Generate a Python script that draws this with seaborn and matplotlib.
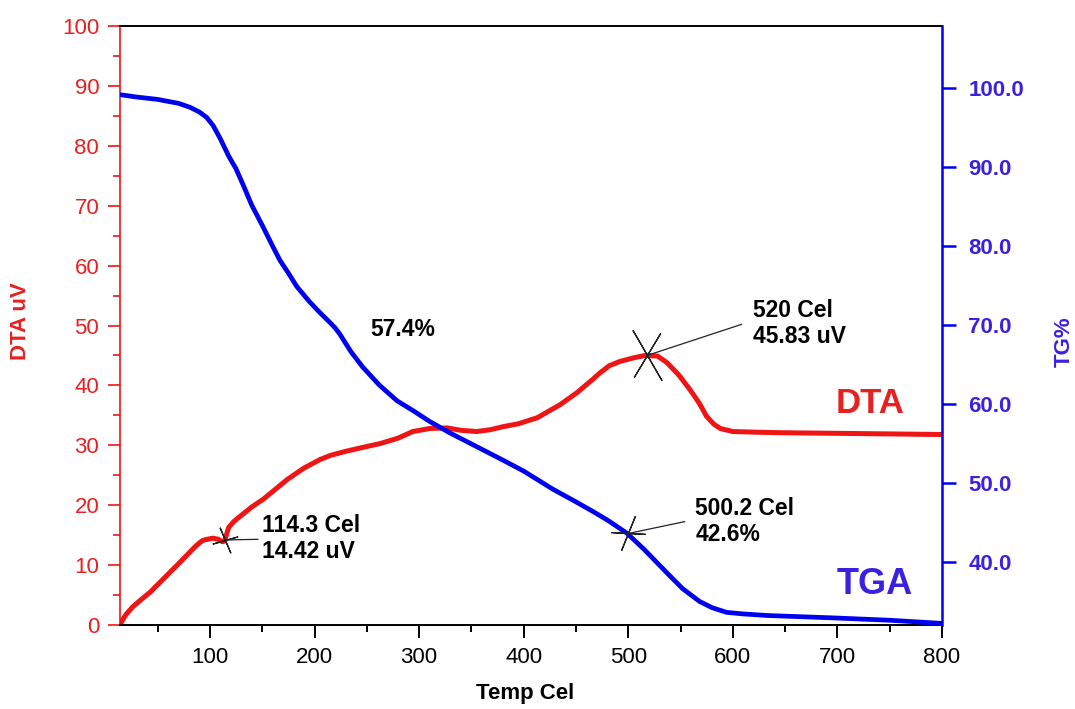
import matplotlib
matplotlib.use("Agg")
import matplotlib.pyplot as plt
import seaborn as sns
from matplotlib.ticker import MultipleLocator

# DTA curve (left axis, uV)
temp_dta = [14, 17, 20, 26, 34, 43, 59, 71, 81, 86, 90, 93, 97, 103, 108, 112, 114, 116, 118,
            123, 130, 140, 151, 165, 174, 190, 205, 215, 230, 245, 263, 280, 294,
            310, 327, 340, 355, 368, 380, 395, 413, 435, 451, 466, 473, 482, 492,
            505, 516, 528, 537, 548, 559, 568, 575, 582, 588, 600, 620, 645, 700,
            750, 800]
dta_uv = [0.0, 1.0, 1.8, 3.0, 4.2, 5.5, 8.3, 10.4, 12.2, 13.1, 13.7, 14.1, 14.3, 14.5, 14.3, 13.9, 14.0, 15.2, 16.3,
          17.3, 18.3, 19.7, 21.0, 23.0, 24.3, 26.2, 27.6, 28.3, 29.0, 29.6, 30.3, 31.2, 32.3,
          32.8, 32.9, 32.5, 32.3, 32.6, 33.1, 33.6, 34.6, 36.8, 38.8, 41.0, 42.1, 43.3, 44.0,
          44.6, 45.0, 44.9, 43.8, 41.8, 39.3, 37.0, 34.8, 33.5, 32.8, 32.3, 32.2, 32.1, 32.0,
          31.9, 31.8]

# TGA curve (right axis, %)
temp_tga = [14, 30, 50, 70, 81, 90, 97, 103, 110, 118, 125, 132, 140, 151, 160, 167,
            175, 183, 195, 205, 215, 220, 224, 235, 246, 262, 279, 295, 310, 330,
            358, 380, 400, 428, 450, 466, 480, 499, 515, 537, 552, 568, 580, 594,
            610, 633, 696, 750, 800]
tg_pct = [99.2, 98.9, 98.6, 98.1, 97.6, 97.0, 96.3, 95.3, 93.6, 91.4, 89.8, 87.7, 85.2, 82.4, 80.0, 78.2,
          76.6, 74.9, 73.0, 71.6, 70.3, 69.6, 68.9, 66.6, 64.7, 62.4, 60.4, 59.1, 57.8, 56.3,
          54.4, 52.9, 51.5, 49.2, 47.6, 46.4, 45.3, 43.6, 41.6, 38.6, 36.6, 35.0, 34.2, 33.6,
          33.4, 33.2, 32.9, 32.6, 32.2]

# marked points
dta_marks_t = [114.3, 518]
dta_marks_v = [14.2, 45.0]
dta_mark_text = ["114.3 Cel\n14.42 uV", "520 Cel\n45.83 uV"]
tga_mark_t = 500.2
tga_mark_v = 43.6
tga_mark_text = "500.2 Cel\n42.6%"

dta_ticks = list(range(0, 101, 10))
tg_ticks = [40, 50, 60, 70, 80, 90, 100]
temp_ticks = [100, 200, 300, 400, 500, 600, 700, 800]

RED = "#f01414"
RED_TXT = "#e82020"
BLUE = "#0000f0"
BLUE_TXT = "#3a20e0"

sns.set_style("ticks")
plt.rcParams["font.family"] = ["Liberation Sans", "DejaVu Sans"]
plt.rcParams["text.color"] = "black"

fig = plt.figure(figsize=(10.75, 7.09), dpi=100)
ax = fig.add_axes([0.1116, 0.1185, 0.7647, 0.8448])
ax2 = ax.twinx()

sns.lineplot(x=temp_dta, y=dta_uv, ax=ax, color=RED, lw=3.6,
             solid_joinstyle="round", solid_capstyle="round")
sns.lineplot(x=temp_tga, y=tg_pct, ax=ax2, color=BLUE, lw=3.4,
             solid_joinstyle="round", solid_capstyle="round")

ax.set_xlim(14, 800)
ax.set_ylim(0, 100)
ax2.set_ylim(32.0, 107.9)

ax.set_xticks(temp_ticks)
ax.xaxis.set_minor_locator(MultipleLocator(50))
ax.set_yticks(dta_ticks)
ax.yaxis.set_minor_locator(MultipleLocator(5))
ax2.set_yticks(tg_ticks, labels=[f"{v:.1f}" for v in tg_ticks], fontweight="bold")

# spines
ax.spines["left"].set_color(RED)
ax.spines["left"].set_linewidth(1.2)
ax.spines["bottom"].set_color("black")
ax.spines["bottom"].set_linewidth(1.4)
ax.spines["top"].set_color("black")
ax.spines["top"].set_linewidth(1.4)
ax.spines["right"].set_visible(False)
for s in ["left", "top", "bottom"]:
    ax2.spines[s].set_visible(False)
ax2.spines["right"].set_color(BLUE)
ax2.spines["right"].set_linewidth(1.8)

ax.tick_params(axis="y", which="major", color=RED, labelcolor=RED_TXT, labelsize=16,
               length=9, width=1.2, pad=6)
ax.tick_params(axis="y", which="minor", color=RED, length=5, width=1.2)
ax.tick_params(axis="x", which="major", color="black", labelcolor="black", labelsize=16,
               length=9, width=1.4, pad=7)
ax.tick_params(axis="x", which="minor", color="black", length=5, width=1.4)
ax2.tick_params(axis="y", which="major", color=BLUE, labelcolor=BLUE_TXT, labelsize=16,
                length=10, width=1.8, pad=9)

ax.set_xlabel("Temp Cel", fontsize=16, fontweight="bold", color="black")
ax.xaxis.set_label_coords(0.493, -0.097)
ax.set_ylabel("DTA uV", fontsize=16, fontweight="bold", color=RED_TXT)
ax.yaxis.set_label_coords(-0.108, 0.508)
ax2.set_ylabel("TG%", fontsize=16, fontweight="bold", color=BLUE_TXT)
ax2.yaxis.set_label_coords(1.136, 0.473)

# cross markers and leader lines
line_kw = dict(arrowstyle="-", color="#222222", lw=0.9, shrinkA=0, shrinkB=0)
mk_kw = dict(color="#222222", ls="none", mew=0.9, zorder=5)
txt_kw = dict(fontsize=16.5, fontweight="bold", color="black", ha="left",
              va="center", linespacing=1.15)

ax.plot(dta_marks_t[0], dta_marks_v[0], marker=(2, 2, 23), ms=20, **mk_kw)
ax.plot(dta_marks_t[0], dta_marks_v[0], marker=(2, 2, -74), ms=19, **mk_kw)
ax.annotate("", xy=(dta_marks_t[0], dta_marks_v[0]), xytext=(146, 14.3), arrowprops=line_kw)
ax.text(150, 14.4, dta_mark_text[0], **txt_kw)

ax.plot(dta_marks_t[1], dta_marks_v[1], marker=(2, 2, 30), ms=42, **mk_kw)
ax.plot(dta_marks_t[1], dta_marks_v[1], marker=(2, 2, -31), ms=37, **mk_kw)
ax.annotate("", xy=(dta_marks_t[1], dta_marks_v[1]), xytext=(608.5, 50.2), arrowprops=line_kw)
ax.text(619, 50.3, dta_mark_text[1], **txt_kw)

ax2.plot(tga_mark_t, tga_mark_v, marker=(2, 2, -22), ms=27, **mk_kw)
ax2.plot(tga_mark_t, tga_mark_v, marker=(2, 2, 87), ms=25, **mk_kw)
ax2.annotate("", xy=(tga_mark_t, tga_mark_v), xytext=(554, 45.1), arrowprops=line_kw)
ax.text(564, 17.3, tga_mark_text, **txt_kw)

ax.text(253, 49.3, "57.4%", fontsize=16.5, fontweight="bold", color="black",
        ha="left", va="center")
ax.text(698.5, 37.0, "DTA", fontsize=25, fontweight="bold", color=RED_TXT,
        ha="left", va="center")
ax.text(699.5, 6.7, "TGA", fontsize=26, fontweight="bold", color=BLUE_TXT,
        ha="left", va="center")

fig.savefig("out.png", dpi=100)
